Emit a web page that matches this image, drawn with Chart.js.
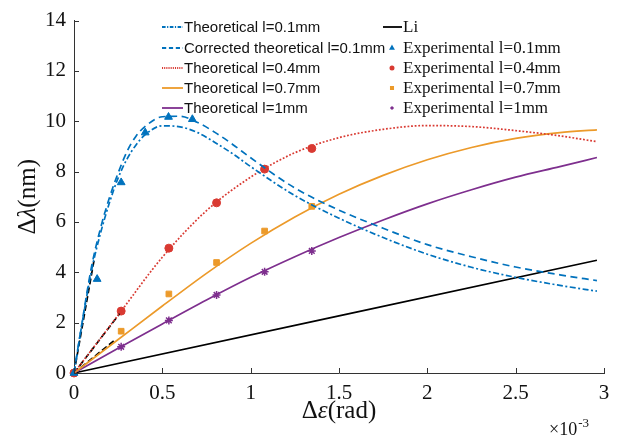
<!DOCTYPE html>
<html>
<head>
<meta charset="utf-8">
<script src="https://cdn.jsdelivr.net/npm/chart.js@4.4.1/dist/chart.umd.min.js"></script>
<style>
  html, body { margin: 0; padding: 0; background: #fff; }
  #wrap { width: 622px; height: 439px; }
</style>
</head>
<body>
<div id="wrap"><canvas id="myChart" width="622" height="439"></canvas></div>
<script>
// strain in units of 1e-3 rad (axis shows x10^-3)
var theoryX = [0, 0.05, 0.1, 0.15, 0.2, 0.25, 0.3, 0.35, 0.4, 0.5, 0.6, 0.7, 0.8, 0.9, 1.0, 1.25, 1.5, 1.75, 2.0, 2.25, 2.5, 2.75, 2.96];
var theory01 = [0, 2.15, 4.1, 5.55, 6.75, 7.75, 8.5, 9.05, 9.45, 9.82, 9.78, 9.55, 9.15, 8.7, 8.2, 7.05, 6.15, 5.38, 4.72, 4.2, 3.8, 3.48, 3.25];
var corrected01 = [0, 2.2, 4.25, 5.75, 6.95, 7.95, 8.8, 9.4, 9.78, 10.18, 10.2, 9.95, 9.55, 9.07, 8.55, 7.35, 6.47, 5.75, 5.1, 4.62, 4.21, 3.9, 3.67];

var theoryX2 = [0, 0.25, 0.5, 0.75, 1.0, 1.25, 1.5, 1.75, 2.0, 2.25, 2.5, 2.75, 2.96];
var theory04 = [0, 2.3, 4.6, 6.45, 7.78, 8.75, 9.35, 9.68, 9.83, 9.79, 9.63, 9.42, 9.19];
var theory07 = [0, 1.33, 2.66, 3.96, 5.15, 6.2, 7.1, 7.85, 8.47, 8.96, 9.32, 9.55, 9.66];
var theory1 = [0, 0.98, 1.95, 2.9, 3.8, 4.62, 5.38, 6.08, 6.72, 7.28, 7.78, 8.2, 8.56];

var liX = [0, 2.96];
var liY = [0, 4.48];

// small-strain linear approximations (black dashed)
var approxX = [[0, 0.113], [0, 0.258], [0, 0.235]];
var approxY = [[0, 4.46], [0, 2.35], [0, 1.33]];

var expX01 = [0, 0.131, 0.267, 0.403, 0.535, 0.67];
var exp01 = [0, 3.73, 7.57, 9.55, 10.17, 10.08];
var expX = [0, 0.267, 0.537, 0.807, 1.079, 1.346];
var exp04 = [0, 2.46, 4.96, 6.76, 8.1, 8.92];
var exp07 = [0, 1.66, 3.14, 4.39, 5.64, 6.62];
var exp1 = [0, 1.04, 2.09, 3.1, 4.02, 4.85];

var xTicks = [0, 0.5, 1, 1.5, 2, 2.5, 3];
var yTicks = [0, 2, 4, 6, 8, 10, 12, 14];

var BLUE = '#0072BD', RED = '#d93a32', ORANGE = '#ec9a2a', PURPLE = '#7E2F8E', BLACK = '#000000';
var SERIF = '"Liberation Serif", "Times New Roman", serif';
var SANS = '"Liberation Sans", Arial, sans-serif';

function pts(xs, ys) {
    var out = [];
    for (var i = 0; i < xs.length; i++) out.push({ x: xs[i], y: ys[i] });
    return out;
}
function curve(label, xs, ys, color, dash) {
    return {
        label: label, data: pts(xs, ys), showLine: true, borderColor: color, backgroundColor: color,
        borderWidth: 1.7, borderDash: dash, pointRadius: 0, cubicInterpolationMode: 'monotone', clip: 10
    };
}
function marks(label, xs, ys, color, style, r) {
    return {
        label: label, data: pts(xs, ys), showLine: false, borderColor: color, backgroundColor: color,
        pointStyle: style, pointRadius: r, pointBorderWidth: style == 'star' ? 1.5 : 1, clip: 10
    };
}

var datasets = [
    curve('Theoretical l=0.1mm', theoryX, theory01, BLUE, [6, 2.5, 2, 2.5]),
    curve('Corrected theoretical l=0.1mm', theoryX, corrected01, BLUE, [7, 4.5]),
    curve('Theoretical l=0.4mm', theoryX2, theory04, RED, [1.8, 1.8]),
    curve('Theoretical l=0.7mm', theoryX2, theory07, ORANGE, []),
    curve('Theoretical l=1mm', theoryX2, theory1, PURPLE, []),
    curve('Li', liX, liY, BLACK, [])
];
for (var k = 0; k < approxX.length; k++) {
    var d = curve('approx' + k, approxX[k], approxY[k], BLACK, [6, 3]);
    d.cubicInterpolationMode = 'default';
    datasets.push(d);
}
datasets.push(marks('Experimental l=0.1mm', expX01, exp01, BLUE, 'triangle', 4.5));
datasets.push(marks('Experimental l=0.4mm', expX, exp04, RED, 'circle', 4));
datasets.push(marks('Experimental l=0.7mm', expX, exp07, ORANGE, 'rect', 4));
datasets.push(marks('Experimental l=1mm', expX, exp1, PURPLE, 'star', 4));

function drawParts(ctx, parts, size, x, y) {
    var total = 0;
    parts.forEach(function (p) {
        ctx.font = (p[1] ? 'italic ' : '') + size + 'px ' + SERIF;
        p.w = ctx.measureText(p[0]).width;
        total += p.w;
    });
    var cx = x - total / 2;
    parts.forEach(function (p) {
        ctx.font = (p[1] ? 'italic ' : '') + size + 'px ' + SERIF;
        ctx.fillText(p[0], cx, y);
        cx += p.w;
    });
}

var extras = {
    id: 'extras',
    afterDraw: function (chart) {
        var ctx = chart.ctx, a = chart.chartArea;
        var xs = chart.scales.x, ys = chart.scales.y;
        ctx.save();
        // inward ticks
        ctx.strokeStyle = '#333';
        ctx.lineWidth = 1;
        ctx.beginPath();
        xTicks.forEach(function (v) {
            var px = Math.round(xs.getPixelForValue(v)) + 0.5;
            ctx.moveTo(px, a.bottom); ctx.lineTo(px, a.bottom - 5);
        });
        yTicks.forEach(function (v) {
            var py = Math.round(ys.getPixelForValue(v)) + 0.5;
            ctx.moveTo(a.left, py); ctx.lineTo(a.left + 5, py);
        });
        ctx.stroke();

        // axis titles
        ctx.fillStyle = '#111';
        ctx.textBaseline = 'middle';
        ctx.textAlign = 'left';
        ctx.save();
        ctx.translate(28, (a.top + a.bottom) / 2);
        ctx.rotate(-Math.PI / 2);
        drawParts(ctx, [['Δ'], ['λ', true], ['(nm)']], 25, 0, 0);
        ctx.restore();
        drawParts(ctx, [['Δ'], ['ε', true], ['(rad)']], 25, (a.left + a.right) / 2, 411);

        // exponent
        ctx.textBaseline = 'alphabetic';
        ctx.font = '18px ' + SERIF;
        ctx.fillText('×10', 549, 435);
        var w = ctx.measureText('×10').width;
        ctx.font = '13px ' + SERIF;
        ctx.fillText('-3', 549 + w + 1, 427);

        // legend
        ctx.textBaseline = 'middle';
        var rows = [27, 48, 68, 88, 108];
        var left = [0, 1, 2, 3, 4];
        left.forEach(function (di, r) {
            var ds = chart.data.datasets[di];
            ctx.strokeStyle = ds.borderColor;
            ctx.lineWidth = 1.8;
            ctx.setLineDash(ds.borderDash.length ? ds.borderDash.map(function (v) { return v * 0.6; }) : []);
            ctx.beginPath();
            ctx.moveTo(162, rows[r]); ctx.lineTo(183, rows[r]);
            ctx.stroke();
            ctx.setLineDash([]);
            ctx.fillStyle = '#111';
            ctx.font = '15px ' + SANS;
            ctx.fillText(ds.label, 184, rows[r] + 1);
        });
        // Li
        ctx.strokeStyle = BLACK;
        ctx.lineWidth = 1.8;
        ctx.beginPath();
        ctx.moveTo(383, rows[0]); ctx.lineTo(402, rows[0]);
        ctx.stroke();
        ctx.font = '17px ' + SERIF;
        ctx.fillStyle = '#111';
        ctx.fillText('Li', 403, rows[0] + 1);
        var expIdx = [9, 10, 11, 12];
        expIdx.forEach(function (di, r) {
            var ds = chart.data.datasets[di];
            var y = rows[r + 1];
            ctx.fillStyle = ds.backgroundColor;
            ctx.strokeStyle = ds.borderColor;
            Chart.helpers.drawPoint(ctx, { pointStyle: ds.pointStyle, radius: 1.6, borderWidth: 1, rotation: 0 }, 392, y);
            ctx.fillStyle = '#111';
            ctx.font = '17px ' + SERIF;
            ctx.fillText(ds.label, 403, y + 1);
        });
        ctx.restore();
    }
};

var ctx = document.getElementById('myChart').getContext('2d');
var myChart = new Chart(ctx, {
    type: 'scatter',
    data: { datasets: datasets },
    options: {
        responsive: false,
        animation: false,
        devicePixelRatio: 1,
        layout: { padding: { left: 0, right: 18, top: 18, bottom: 0 } },
        plugins: { legend: { display: false }, tooltip: { enabled: false } },
        scales: {
            x: {
                type: 'linear', min: 0, max: 3,
                afterFit: function (s) { s.height = 66; },
                afterBuildTicks: function (s) { s.ticks = xTicks.map(function (v) { return { value: v }; }); },
                grid: { display: false, drawTicks: false },
                border: { display: true, color: '#333', width: 1 },
                ticks: { color: '#111', padding: 8, font: { family: SERIF, size: 21 }, maxRotation: 0,
                    callback: function (v) { return String(v); } }
            },
            y: {
                type: 'linear', min: 0, max: 14,
                afterFit: function (s) { s.width = 74; },
                afterBuildTicks: function (s) { s.ticks = yTicks.map(function (v) { return { value: v }; }); },
                grid: { display: false, drawTicks: false },
                border: { display: true, color: '#333', width: 1 },
                ticks: { color: '#111', padding: 8, font: { family: SERIF, size: 21 },
                    callback: function (v) { return String(v); } }
            }
        }
    },
    plugins: [extras]
});
</script>
</body>
</html>
